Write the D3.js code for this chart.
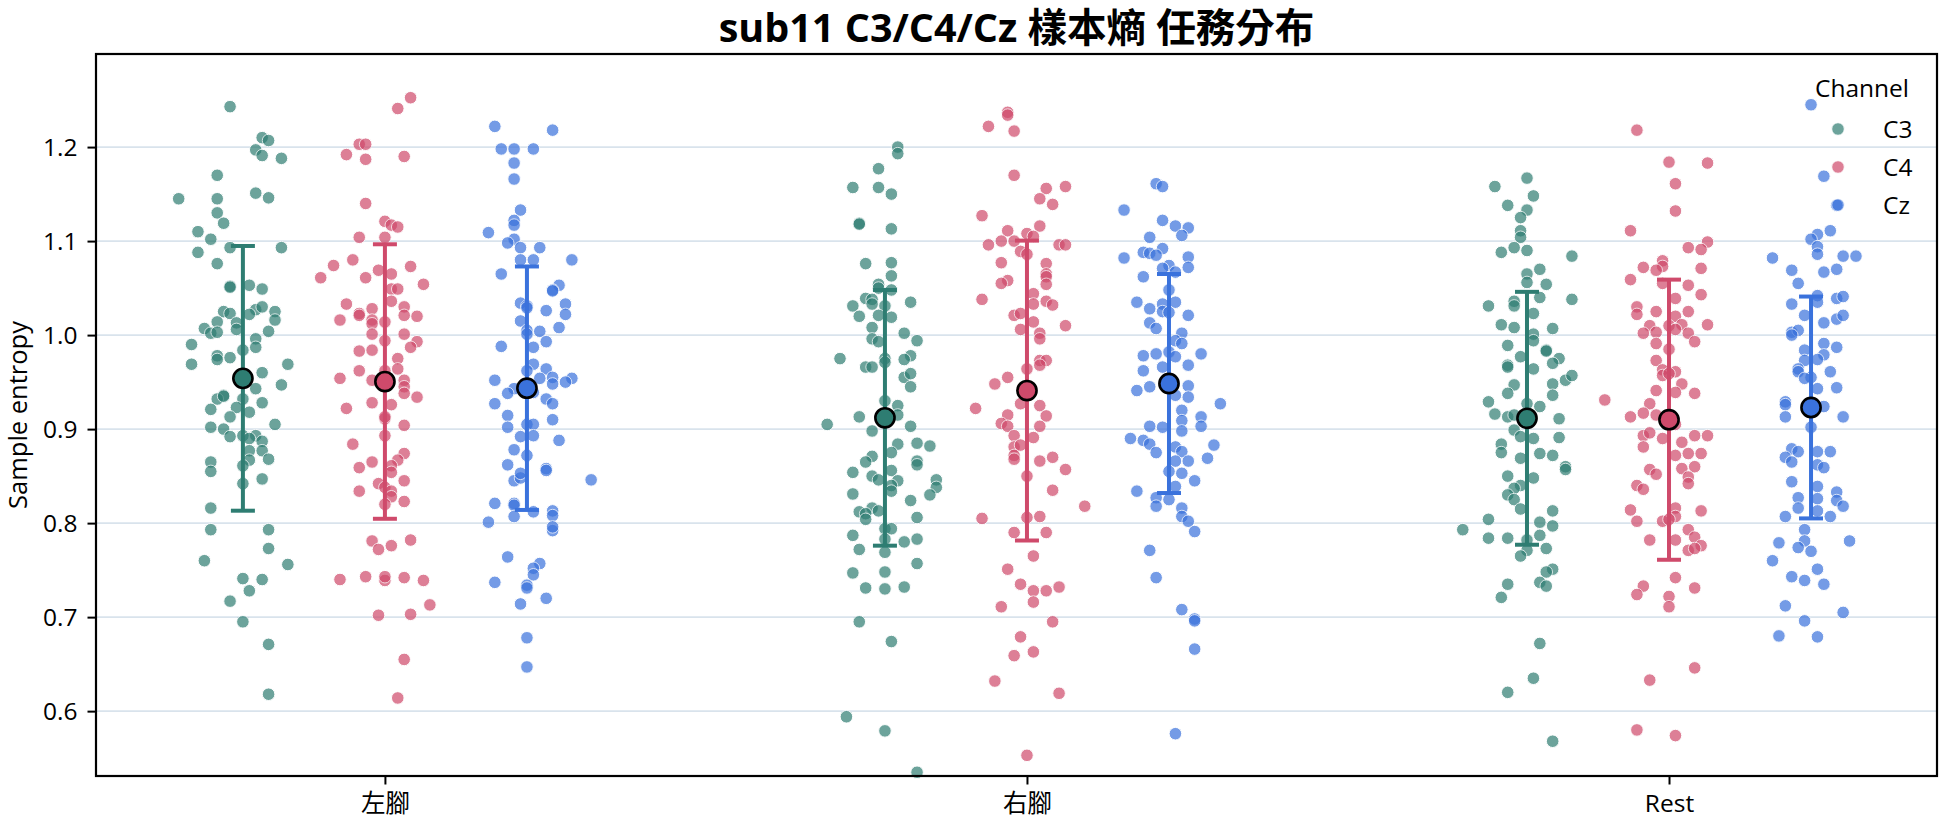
<!DOCTYPE html>
<html>
<head>
<meta charset="utf-8">
<script src="https://cdn.jsdelivr.net/npm/d3@7"></script>
<style>
  html, body { margin: 0; padding: 0; background: #ffffff; }
  svg { display: block; }
  text { font-family: "Open Sans", "Noto Sans CJK TC", sans-serif; fill: #000; }
</style>
</head>
<body>
<svg id="chart" width="1944" height="827"></svg>
<script>
// ---------------- data ----------------
const categories = ["左腳", "右腳", "Rest"];
const channels = ["C3", "C4", "Cz"];
const yTicks = [0.6, 0.7, 0.8, 0.9, 1.0, 1.1, 1.2];
const titleText = "sub11 C3/C4/Cz 樣本熵 任務分布";
const yLabel = "Sample entropy";
const legendTitle = "Channel";

// means and standard deviations (per category)
const meanC3 = [0.954, 0.912, 0.9115];
const meanC4 = [0.9506, 0.941, 0.910];
const meanCz = [0.9435, 0.9485, 0.923];
const sdC3 = [0.1408, 0.136, 0.1345];
const sdC4 = [0.146, 0.1595, 0.149];
const sdCz = [0.1295, 0.1165, 0.118];

// individual trials: [jitter (hundredths of a category), sample entropy]
const leftC3 = [[-2,1.243],[3,1.210],[4,1.207],[2,1.197],[3,1.191],[6,1.188],[-4,1.170],[-10,1.145],[-4,1.145],[2,1.151],[4,1.146],[-4,1.130],[-3,1.119],[-7,1.110],[-5,1.102],[-2,1.093],[6,1.093],[-7,1.088],[-4,1.076],[-2,1.052],[-2,1.051],[1,1.053],[3,1.049],[-3,1.025],[-2,1.023],[2,1.027],[3,1.030],[5,1.025],[1,1.022],[5,1.016],[-4,1.014],[-1,1.013],[-6,1.007],[-5,1.002],[-4,1.003],[-1,1.006],[4,1.004],[2,0.996],[-8,0.990],[2,0.987],[0,0.984],[-2,0.976],[-4,0.978],[-4,0.974],[-8,0.969],[7,0.969],[3,0.960],[2,0.943],[6,0.947],[-3,0.936],[-4,0.932],[-3,0.935],[0,0.932],[3,0.928],[-5,0.921],[-1,0.923],[-2,0.913],[1,0.918],[-5,0.902],[-3,0.900],[0,0.893],[2,0.893],[-2,0.892],[3,0.887],[1,0.890],[5,0.905],[1,0.877],[3,0.877],[4,0.868],[-5,0.865],[1,0.867],[0,0.861],[-5,0.855],[3,0.847],[0,0.842],[-5,0.816],[-5,0.793],[4,0.793],[4,0.773],[-6,0.760],[7,0.756],[0,0.741],[3,0.740],[1,0.728],[-2,0.717],[0,0.695],[4,0.671],[4,0.618]];
const leftC4 = [[4,1.2525],[2,1.241],[-4,1.203],[-3,1.203],[-6,1.192],[-3,1.187],[3,1.190],[-3,1.140],[0,1.121],[1,1.117],[2,1.115],[-4,1.104],[0,1.104],[-5,1.080],[-8,1.074],[4,1.073],[-10,1.061],[-1,1.069],[1,1.065],[-3,1.061],[6,1.054],[1,1.049],[2,1.049],[1,1.036],[-6,1.033],[-2,1.028],[3,1.030],[-4,1.023],[-4,1.021],[3,1.021],[5,1.020],[-7,1.016],[-2,1.016],[0,1.014],[-2,1.012],[-2,1.001],[3,1.001],[0,0.994],[5,0.993],[4,0.987],[-4,0.983],[-2,0.984],[2,0.975],[-4,0.962],[-7,0.954],[-2,0.952],[2,0.964],[3,0.952],[0,0.962],[3,0.945],[-2,0.928],[1,0.926],[3,0.938],[5,0.934],[-6,0.922],[0,0.911],[0,0.913],[3,0.904],[0,0.893],[-5,0.884],[3,0.874],[2,0.867],[-2,0.865],[1,0.861],[-4,0.859],[1,0.854],[3,0.845],[-1,0.842],[0,0.838],[1,0.834],[-4,0.834],[1,0.828],[3,0.823],[0,0.820],[-2,0.781],[1,0.776],[-1,0.772],[4,0.782],[-7,0.740],[-3,0.743],[0,0.739],[0,0.743],[3,0.742],[6,0.739],[7,0.713],[-1,0.702],[4,0.703],[3,0.655],[2,0.614]];
const leftCz = [[-5,1.222],[4,1.218],[-4,1.198],[-2,1.198],[1,1.198],[-2,1.183],[-2,1.166],[-1,1.133],[-2,1.122],[-2,1.117],[-6,1.109],[-2,1.102],[-3,1.098],[-1,1.093],[2,1.093],[-1,1.080],[1,1.080],[7,1.080],[-4,1.065],[5,1.053],[4,1.048],[4,1.047],[-1,1.034],[0,1.031],[0,1.029],[6,1.033],[3,1.026],[6,1.022],[-1,1.015],[5,1.008],[0,1.005],[2,1.004],[0,1.001],[3,0.993],[-4,0.988],[1,0.987],[1,0.969],[3,0.964],[0,0.962],[4,0.955],[-5,0.952],[2,0.954],[7,0.954],[6,0.950],[4,0.948],[-2,0.943],[-3,0.938],[1,0.939],[3,0.932],[-5,0.927],[4,0.927],[-3,0.9145],[4,0.910],[-3,0.902],[0,0.905],[1,0.905],[1,0.893],[-1,0.892],[5,0.888],[-2,0.878],[0,0.872],[-3,0.862],[3,0.858],[3,0.856],[-2,0.845],[-1,0.848],[-1,0.853],[10,0.846],[-5,0.821],[-2,0.821],[-2,0.819],[1,0.812],[4,0.813],[4,0.808],[-2,0.807],[-6,0.801],[4,0.792],[4,0.796],[-3,0.764],[2,0.757],[1,0.752],[1,0.745],[-5,0.737],[0,0.734],[0,0.731],[-1,0.714],[3,0.720],[0,0.678],[0,0.647]];
const rightC3 = [[2,1.200],[2,1.193],[-1,1.177],[-5,1.157],[-1,1.157],[1,1.150],[-4,1.119],[-4,1.118],[1,1.113],[-3,1.076],[1,1.077],[1,1.063],[-1,1.054],[-1,1.050],[1,1.048],[-3,1.039],[-2,1.038],[4,1.035],[-5,1.031],[-2,1.033],[0,1.031],[-4,1.020],[-1,1.021],[1,1.019],[-2,1.008],[3,1.002],[5,0.994],[-2,0.996],[-1,0.993],[-7,0.975],[-3,0.966],[-2,0.966],[0,0.975],[0,0.971],[4,0.978],[3,0.974],[3,0.955],[4,0.959],[4,0.945],[0,0.930],[2,0.925],[-4,0.913],[-9,0.905],[2,0.915],[4,0.903],[-2,0.898],[2,0.884],[5,0.885],[7,0.882],[1,0.875],[-2,0.871],[-3,0.865],[5,0.866],[5,0.862],[-5,0.854],[1,0.856],[-2,0.850],[-1,0.846],[2,0.845],[8,0.846],[8,0.838],[1,0.840],[1,0.834],[-5,0.831],[7,0.830],[4,0.824],[-2,0.816],[-4,0.812],[-3,0.810],[-1,0.813],[5,0.806],[-3,0.804],[0,0.794],[1,0.794],[-5,0.787],[0,0.783],[5,0.783],[3,0.780],[-4,0.772],[0,0.769],[5,0.757],[-5,0.747],[0,0.748],[-3,0.731],[0,0.730],[3,0.732],[-4,0.695],[1,0.674],[-6,0.594],[0,0.579],[5,0.535]];
const rightC4 = [[-3,1.237],[-3,1.234],[-6,1.222],[-2,1.217],[-2,1.170],[3,1.156],[6,1.158],[2,1.145],[4,1.139],[-7,1.127],[-3,1.111],[2,1.116],[0,1.108],[1,1.105],[-4,1.100],[-6,1.096],[-2,1.100],[5,1.096],[6,1.096],[-1,1.089],[0,1.086],[-4,1.077],[3,1.076],[3,1.065],[3,1.062],[-3,1.058],[-4,1.055],[3,1.054],[-7,1.038],[1,1.044],[1,1.033],[3,1.036],[4,1.032],[-2,1.021],[-1,1.023],[1,1.014],[6,1.010],[-1,1.006],[2,1.002],[2,0.996],[2,0.973],[3,0.973],[0,0.964],[2,0.968],[-3,0.955],[-5,0.948],[-8,0.922],[2,0.925],[-1,0.927],[-3,0.915],[3,0.914],[-4,0.906],[-3,0.903],[2,0.903],[-2,0.893],[1,0.891],[-2,0.881],[-1,0.883],[-2,0.872],[-2,0.868],[2,0.866],[4,0.870],[6,0.857],[0,0.850],[4,0.835],[9,0.818],[-7,0.805],[0,0.806],[2,0.807],[-2,0.790],[3,0.790],[1,0.765],[-3,0.751],[-1,0.735],[1,0.728],[3,0.728],[5,0.732],[1,0.716],[-4,0.711],[4,0.695],[-1,0.679],[1,0.663],[-2,0.659],[-5,0.632],[5,0.619],[0,0.553]];
const rightCz = [[-2,1.161],[-1,1.158],[-7,1.133],[-1,1.122],[1,1.116],[3,1.114],[2,1.106],[-3,1.104],[-4,1.088],[-3,1.087],[-1,1.092],[-7,1.082],[3,1.083],[-2,1.085],[0,1.074],[-1,1.071],[3,1.072],[1,1.067],[-4,1.062],[0,1.048],[-5,1.035],[1,1.035],[-3,1.028],[-1,1.033],[-1,1.025],[0,1.024],[3,1.021],[-3,1.013],[-2,1.007],[2,1.002],[1,0.994],[2,0.991],[-4,0.978],[-2,0.980],[0,0.982],[1,0.977],[5,0.980],[-4,0.962],[-1,0.966],[3,0.968],[-3,0.945],[-5,0.941],[3,0.946],[1,0.936],[3,0.934],[8,0.927],[2,0.920],[5,0.913],[2,0.909],[-3,0.903],[5,0.903],[-1,0.902],[2,0.898],[-6,0.890],[-4,0.888],[-3,0.884],[7,0.883],[1,0.881],[2,0.876],[-2,0.875],[6,0.869],[3,0.866],[1,0.866],[0,0.855],[2,0.853],[4,0.845],[1,0.839],[-5,0.834],[-2,0.827],[0,0.825],[-2,0.818],[2,0.816],[2,0.807],[3,0.802],[4,0.791],[-3,0.771],[-2,0.742],[2,0.708],[4,0.698],[4,0.696],[4,0.666],[1,0.576]];
const restC3 = [[0,1.167],[-5,1.158],[1,1.148],[-3,1.138],[0,1.133],[-1,1.125],[-1,1.111],[-1,1.104],[-4,1.088],[-2,1.093],[0,1.090],[7,1.084],[2,1.070],[0,1.065],[0,1.056],[3,1.054],[2,1.040],[-2,1.036],[7,1.038],[-6,1.031],[-2,1.031],[1,1.023],[-4,1.011],[-2,1.008],[4,1.007],[1,1.001],[1,0.994],[-3,0.989],[3,0.984],[3,0.983],[5,0.975],[-1,0.977],[4,0.970],[-3,0.968],[-3,0.966],[1,0.964],[-2,0.947],[4,0.948],[6,0.952],[7,0.957],[-3,0.938],[4,0.936],[-6,0.929],[2,0.924],[0,0.927],[-5,0.916],[-3,0.913],[-2,0.915],[5,0.911],[-2,0.899],[-1,0.892],[1,0.890],[5,0.891],[-4,0.884],[-4,0.875],[2,0.874],[4,0.872],[-1,0.869],[6,0.860],[6,0.857],[-3,0.850],[1,0.848],[-1,0.840],[-2,0.837],[-3,0.830],[-2,0.825],[-1,0.815],[4,0.813],[-6,0.804],[2,0.801],[4,0.797],[-10,0.793],[-6,0.784],[-3,0.784],[2,0.787],[0,0.782],[3,0.773],[0,0.771],[-1,0.765],[4,0.751],[3,0.748],[-3,0.735],[2,0.737],[3,0.733],[-4,0.721],[2,0.672],[1,0.635],[-3,0.620],[4,0.568]];
const restC4 = [[-5,1.218],[0,1.184],[6,1.183],[1,1.161],[1,1.132],[-6,1.111],[6,1.099],[5,1.091],[3,1.093],[-1,1.079],[-4,1.072],[-1,1.073],[-2,1.069],[5,1.071],[-6,1.059],[-1,1.055],[3,1.053],[5,1.043],[1,1.039],[-5,1.030],[-5,1.022],[-2,1.025],[1,1.020],[3,1.025],[6,1.011],[-3,1.010],[0,1.010],[2,1.011],[-4,1.002],[-2,1.003],[1,1.006],[3,1.002],[4,0.993],[-2,0.991],[0,0.985],[-2,0.973],[1,0.961],[-1,0.963],[-1,0.957],[0,0.959],[2,0.948],[-2,0.941],[1,0.939],[4,0.938],[-10,0.931],[-3,0.927],[-4,0.917],[-6,0.913],[-2,0.915],[1,0.905],[-4,0.893],[-3,0.896],[-1,0.890],[4,0.893],[6,0.893],[2,0.886],[-4,0.881],[3,0.874],[1,0.872],[5,0.874],[4,0.860],[2,0.858],[-3,0.857],[-2,0.852],[3,0.849],[3,0.842],[-5,0.840],[-4,0.836],[-6,0.814],[1,0.816],[5,0.813],[1,0.807],[-5,0.802],[-1,0.802],[0,0.804],[3,0.793],[4,0.785],[-3,0.782],[1,0.782],[5,0.776],[3,0.771],[4,0.773],[1,0.742],[-4,0.733],[4,0.731],[-5,0.724],[0,0.722],[0,0.711],[4,0.646],[-3,0.633],[-5,0.580],[1,0.574]];
const restCz = [[0,1.245],[2,1.169],[4,1.138],[3,1.111],[1,1.107],[0,1.102],[1,1.094],[1,1.086],[-6,1.082],[5,1.084],[7,1.084],[-3,1.069],[2,1.067],[4,1.070],[-2,1.055],[1,1.042],[-3,1.033],[4,1.039],[5,1.041],[1,1.035],[-1,1.021],[2,1.013],[4,1.017],[5,1.021],[-3,1.003],[-2,1.005],[-3,1.000],[2,0.991],[4,0.987],[-1,0.984],[2,0.979],[1,0.974],[-1,0.973],[-2,0.964],[-2,0.961],[3,0.961],[0,0.955],[-1,0.954],[4,0.944],[1,0.943],[-4,0.929],[-4,0.926],[2,0.924],[-4,0.913],[5,0.913],[0,0.902],[-3,0.879],[-2,0.876],[1,0.876],[3,0.876],[-4,0.870],[-3,0.865],[1,0.862],[2,0.859],[-3,0.844],[1,0.839],[4,0.833],[-2,0.827],[1,0.826],[4,0.824],[-2,0.816],[1,0.813],[5,0.818],[-4,0.807],[3,0.807],[-1,0.793],[-5,0.779],[-1,0.781],[6,0.781],[-2,0.774],[0,0.770],[-6,0.760],[1,0.751],[-3,0.743],[-1,0.739],[2,0.735],[-4,0.712],[5,0.705],[-1,0.696],[-5,0.680],[1,0.679]];

// ---------------- layout / style ----------------
const plot = { left: 96, right: 1937, top: 54, bottom: 776 };
const colors = ["#2e7d72", "#cf4a6b", "#3a72dc"];
const dodge = [-0.2212, 0, 0.2212];
const pointsByCat = [
  [leftC3, leftC4, leftCz],
  [rightC3, rightC4, rightCz],
  [restC3, restC4, restCz]
];
const meansByCh = [meanC3, meanC4, meanCz];
const sdByCh = [sdC3, sdC4, sdCz];

const svg = d3.select("#chart");

const x = d3.scaleLinear().domain([-0.45, 2.4174]).range([plot.left, plot.right]);
const y = d3.scaleLinear().domain([0.531, 1.299]).range([plot.bottom, plot.top]);

// gridlines
svg.append("g").selectAll("line").data(yTicks).join("line")
  .attr("x1", plot.left).attr("x2", plot.right)
  .attr("y1", d => y(d)).attr("y2", d => y(d))
  .attr("stroke", "#d9e3ec").attr("stroke-width", 1.8);

// strip points
const gPts = svg.append("g");
pointsByCat.forEach((chs, ci) => {
  chs.forEach((arr, hi) => {
    gPts.append("g").selectAll("circle").data(arr).join("circle")
      .attr("cx", d => x(ci + dodge[hi] + d[0] / 100))
      .attr("cy", d => y(d[1]))
      .attr("r", 6.3)
      .attr("fill", colors[hi])
      .attr("stroke", "#ffffff")
      .attr("stroke-width", 1)
      .attr("opacity", 0.7);
  });
});

// error bars + means
const gErr = svg.append("g");
channels.forEach((ch, hi) => {
  categories.forEach((cat, ci) => {
    const cx = x(ci + dodge[hi]);
    const m = meansByCh[hi][ci], s = sdByCh[hi][ci];
    const g = gErr.append("g");
    g.append("line").attr("x1", cx).attr("x2", cx)
      .attr("y1", y(m - s)).attr("y2", y(m + s))
      .attr("stroke", colors[hi]).attr("stroke-width", 4);
    [m - s, m + s].forEach(v => {
      g.append("line").attr("x1", cx - 12).attr("x2", cx + 12)
        .attr("y1", y(v)).attr("y2", y(v))
        .attr("stroke", colors[hi]).attr("stroke-width", 4);
    });
    g.append("circle").attr("cx", cx).attr("cy", y(m)).attr("r", 9.6)
      .attr("fill", colors[hi]).attr("stroke", "#000").attr("stroke-width", 2.6);
  });
});

// axes
const xAxis = svg.append("g").attr("transform", `translate(0,${plot.bottom})`)
  .call(d3.axisBottom(x).tickValues([0, 1, 2]).tickFormat(i => categories[i]).tickSize(8.5).tickPadding(10).tickSizeOuter(0));
const yAxis = svg.append("g").attr("transform", `translate(${plot.left},0)`)
  .call(d3.axisLeft(y).tickValues(yTicks).tickFormat(d3.format(".1f")).tickSize(8.5).tickPadding(10).tickSizeOuter(0));
[xAxis, yAxis].forEach(a => {
  a.select(".domain").remove();
  a.selectAll(".tick line").attr("stroke", "#000").attr("stroke-width", 2);
  a.selectAll(".tick text").attr("font-size", 24.5)
    .attr("font-family", "'Open Sans', 'Noto Sans CJK TC', sans-serif").attr("fill", "#000");
});
xAxis.selectAll(".tick text").attr("dy", null).attr("y", 36);
yAxis.selectAll(".tick text").attr("dy", "0.35em");

// frame
svg.append("rect").attr("x", plot.left).attr("y", plot.top)
  .attr("width", plot.right - plot.left).attr("height", plot.bottom - plot.top)
  .attr("fill", "none").attr("stroke", "#000").attr("stroke-width", 2.2);

// y label
svg.append("text").attr("transform", `translate(27,${(plot.top + plot.bottom) / 2}) rotate(-90)`)
  .attr("text-anchor", "middle").attr("font-size", 25.5).text(yLabel);

// title
svg.append("text").attr("x", (plot.left + plot.right) / 2).attr("y", 42)
  .attr("text-anchor", "middle").attr("font-size", 39.5).attr("font-weight", "bold")
  .text(titleText);

// legend
const lg = svg.append("g");
lg.append("text").attr("x", 1862).attr("y", 97).attr("text-anchor", "middle")
  .attr("font-size", 24.5).text(legendTitle);
channels.forEach((ch, i) => {
  const cy = 129 + i * 38;
  lg.append("circle").attr("cx", 1838).attr("cy", cy).attr("r", 6.3)
    .attr("fill", colors[i]).attr("stroke", "#fff").attr("stroke-width", 1).attr("opacity", 0.7);
  lg.append("text").attr("x", 1883).attr("y", cy + 8.5).attr("font-size", 24.5).text(ch);
});
</script>
</body>
</html>
